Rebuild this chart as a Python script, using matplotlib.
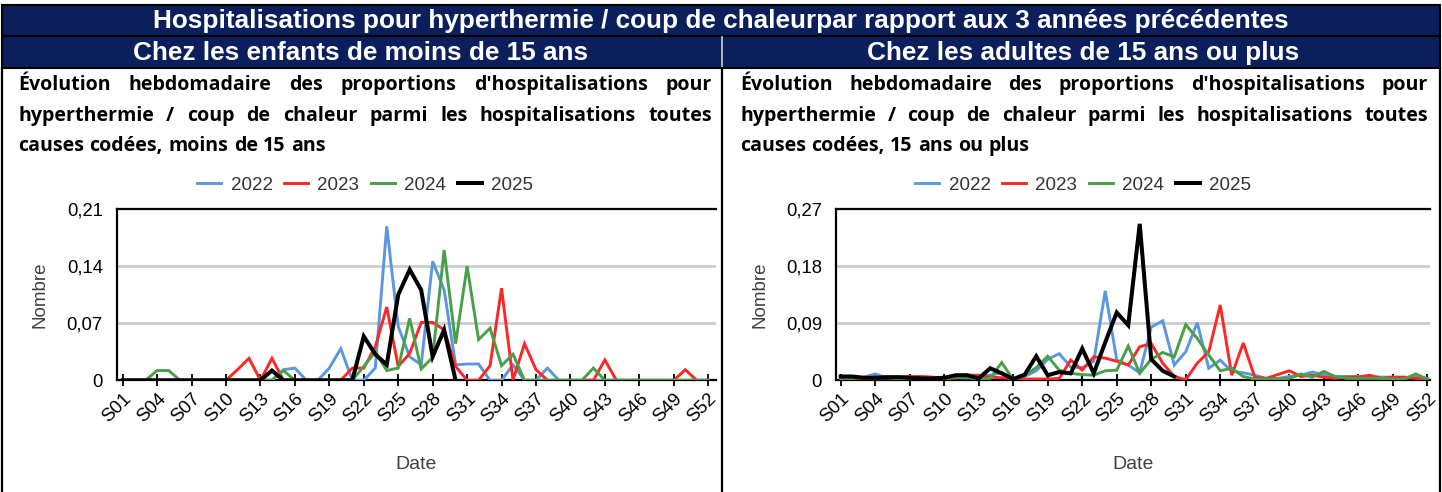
import matplotlib
matplotlib.use("Agg")
import matplotlib.pyplot as plt
from matplotlib.lines import Line2D
from matplotlib.patches import Rectangle

# ---- data -------------------------------------------------------------
weeks = list(range(1, 53))
tick_weeks = list(range(1, 53, 3))
tick_labels = [f"S{w:02d}" for w in tick_weeks]
years = ["2022", "2023", "2024", "2025"]

# children under 15
child_2022 = [0, 0, 0, 0, 0, 0, 0, 0, 0, 0, 0, 0, 0, 0, 0.013, 0.015, 0, 0,
              0.015, 0.039, 0, 0, 0.015, 0.189, 0.066, 0.029, 0.019, 0.146,
              0.111, 0.019, 0.020, 0.020, 0, 0, 0.019, 0, 0, 0.015, 0, 0, 0, 0,
              0, 0, 0, 0, 0, 0, 0, 0, 0, 0]
child_2023 = [0, 0, 0, 0, 0, 0, 0, 0, 0, 0, 0.013, 0.027, 0, 0.027, 0, 0, 0,
              0, 0, 0, 0.015, 0.015, 0.041, 0.090, 0.017, 0.033, 0.071, 0.071,
              0.062, 0.017, 0, 0, 0.018, 0.113, 0, 0.045, 0.013, 0, 0, 0, 0, 0,
              0.025, 0, 0, 0, 0, 0, 0, 0.013, 0, 0]
child_2024 = [0, 0, 0, 0.012, 0.012, 0, 0, 0, 0, 0, 0, 0, 0, 0, 0.012, 0, 0,
              0, 0, 0, 0, 0.017, 0.035, 0.012, 0.015, 0.076, 0.014, 0.028,
              0.160, 0.045, 0.140, 0.050, 0.064, 0.018, 0.032, 0, 0, 0, 0, 0,
              0, 0.015, 0, 0, 0, 0, 0, 0, 0, 0, 0, 0]
child_2025 = [0, 0, 0, 0, 0, 0, 0, 0, 0, 0, 0, 0, 0, 0.012, 0, 0, 0, 0, 0, 0,
              0, 0.054, 0.032, 0.019, 0.105, 0.136, 0.111, 0.029, 0.062, 0]

# adults 15 and over
adult_2022 = [0.004, 0.004, 0.005, 0.010, 0.004, 0.003, 0.004, 0.003, 0.003,
              0.003, 0.004, 0.004, 0.006, 0.008, 0.012, 0.003, 0.006, 0.015,
              0.033, 0.042, 0.021, 0.020, 0.030, 0.141, 0.032, 0.024, 0.012,
              0.084, 0.094, 0.024, 0.045, 0.091, 0.019, 0.032, 0.014, 0.012,
              0.008, 0.003, 0.003, 0.006, 0.008, 0.013, 0.009, 0.006, 0.006,
              0.006, 0.006, 0.005, 0.005, 0.003, 0.005, 0.003]
adult_2023 = [0.003, 0.004, 0.003, 0.003, 0.004, 0.005, 0.006, 0.006, 0.005,
              0.003, 0.004, 0.008, 0.008, 0.005, 0.004, 0.003, 0.002, 0.002,
              0.002, 0.003, 0.032, 0.016, 0.037, 0.035, 0.030, 0.024, 0.053,
              0.058, 0.027, 0.006, 0.001, 0.027, 0.045, 0.119, 0.008, 0.059,
              0.005, 0.003, 0.009, 0.015, 0.006, 0.008, 0.005, 0.003, 0.005,
              0.005, 0.008, 0.003, 0.005, 0.005, 0.003, 0.002]
adult_2024 = [0.003, 0.003, 0.004, 0.004, 0.005, 0.003, 0.002, 0.003, 0.003,
              0.003, 0.005, 0.004, 0.002, 0.003, 0.028, 0.001, 0.008, 0.020,
              0.038, 0.016, 0.011, 0.009, 0.008, 0.015, 0.016, 0.054, 0.011,
              0.033, 0.044, 0.037, 0.088, 0.066, 0.040, 0.015, 0.019, 0.006,
              0.002, 0.002, 0.002, 0.003, 0.010, 0.005, 0.014, 0.006, 0.003,
              0.003, 0.003, 0.003, 0.002, 0.002, 0.010, 0.002]
adult_2025 = [0.006, 0.006, 0.004, 0.004, 0.005, 0.005, 0.004, 0.003, 0.003,
              0.004, 0.008, 0.008, 0.003, 0.019, 0.011, 0.002, 0.009, 0.038,
              0.008, 0.013, 0.011, 0.050, 0.011, 0.060, 0.107, 0.087, 0.247,
              0.033, 0.015, 0.006]

child_ticks = [0, 0.07, 0.14, 0.21]
adult_ticks = [0, 0.09, 0.18, 0.27]

main_title = "Hospitalisations pour hyperthermie / coup de chaleurpar rapport aux 3 années précédentes"
panel_titles = ["Chez les enfants de moins de 15 ans", "Chez les adultes de 15 ans ou plus"]
chart_titles = [
    ["Évolution hebdomadaire des proportions d'hospitalisations pour",
     "hyperthermie / coup de chaleur parmi les hospitalisations toutes",
     "causes codées, moins de 15 ans"],
    ["Évolution hebdomadaire des proportions d'hospitalisations pour",
     "hyperthermie / coup de chaleur parmi les hospitalisations toutes",
     "causes codées, 15 ans ou plus"],
]

# ---- style ------------------------------------------------------------
colors = ["#5b97de", "#ff2626", "#47a047", "#000000"]
widths = [2.1, 2.1, 2.1, 2.9]
navy = "#0b1f5c"
W, H = 1442, 492

plt.rcParams["font.family"] = ["Liberation Sans", "DejaVu Sans"]
fig = plt.figure(figsize=(W / 100, H / 100), dpi=100)
fig.patch.set_facecolor("white")


def fx(x):
    return x / W


def fy(y):
    return 1 - y / H


# ---- header band --------------------------------------------------------
fig.add_artist(Rectangle((fx(2), fy(68)), fx(1438), 63 / H, transform=fig.transFigure,
                         facecolor=navy, edgecolor="black", lw=1.5))
fig.add_artist(Line2D([fx(2), fx(1440)], [fy(36), fy(36)], transform=fig.transFigure,
                      color="black", lw=1.5))
fig.add_artist(Line2D([fx(722), fx(722)], [fy(37), fy(68)], transform=fig.transFigure,
                      color="#d0d0d0", lw=1.2))
fig.text(fx(721), fy(21), main_title, ha="center", va="center", color="white",
         fontsize=18.8, fontweight="bold")
fig.text(fx(361), fy(53), panel_titles[0], ha="center", va="center", color="white",
         fontsize=18.8, fontweight="bold")
fig.text(fx(1083), fy(53), panel_titles[1], ha="center", va="center", color="white",
         fontsize=18.8, fontweight="bold")

# panel borders
for xb in (2, 722, 1440):
    fig.add_artist(Line2D([fx(xb), fx(xb)], [fy(68), fy(492)], transform=fig.transFigure,
                          color="black", lw=1.6))

# ---- justified chart titles --------------------------------------------
renderer = fig.canvas.get_renderer()
title_kw = dict(fontsize=14.1, fontweight="bold", color="black",
                family=["Open Sans", "DejaVu Sans"])


def justified(lines, x0, x1, ys):
    for i, (line, y) in enumerate(zip(lines, ys)):
        words = line.split(" ")
        texts = [fig.text(0, fy(y), w, ha="left", va="center", **title_kw) for w in words]
        wds = [t.get_window_extent(renderer).width for t in texts]
        last = i == len(lines) - 1
        gap = 5.5 if last else (x1 - x0 - sum(wds)) / (len(words) - 1)
        x = x0
        for t, wd in zip(texts, wds):
            t.set_x(fx(x))
            x += wd + gap


title_ys = [85, 116, 146]
justified(chart_titles[0], 18, 712, title_ys)
justified(chart_titles[1], 740, 1428, title_ys)

# ---- charts -----------------------------------------------------------
panels = [
    dict(rect=[fx(116.7), fy(380.3), fx(599.3), 171 / H], xlim=(0.48, 52.68),
         series=[child_2022, child_2023, child_2024, child_2025], ticks=child_ticks,
         legend_x=365),
    dict(rect=[fx(836), fy(380.3), fx(594), 171 / H], xlim=(0.59, 52.24),
         series=[adult_2022, adult_2023, adult_2024, adult_2025], ticks=adult_ticks,
         legend_x=1083),
]

for p in panels:
    ax = fig.add_axes(p["rect"])
    for vals, c, lw, lab in zip(p["series"], colors, widths, years):
        ax.plot(weeks[:len(vals)], vals, color=c, lw=lw, label=lab,
                solid_joinstyle="miter", zorder=3)
    ax.set_xlim(*p["xlim"])
    ax.set_ylim(0, p["ticks"][-1])
    ax.set_yticks(p["ticks"])
    ax.set_yticklabels([("%g" % t).replace(".", ",") for t in p["ticks"]], fontsize=13.3)
    for t in p["ticks"][1:-1]:
        ax.axhline(t, color="#cccccc", lw=2, zorder=1)
    ax.set_xticks(tick_weeks)
    ax.set_xticklabels(tick_labels, rotation=45, ha="right", va="top",
                       rotation_mode="anchor", fontsize=13.5)
    ax.tick_params(axis="x", direction="inout", length=8, width=1.3, pad=3)
    ax.tick_params(axis="y", length=0, pad=10)
    for s in ("top", "left", "bottom"):
        ax.spines[s].set_linewidth(1.6)
        ax.spines[s].set_color("black")
    ax.spines["right"].set_visible(False)
    ax.text(-0.128, 0.5, "Nombre", transform=ax.transAxes, rotation=90,
            ha="center", va="center", fontsize=13.5, color="#404040")
    ax.text(0.5, -0.495, "Date", transform=ax.transAxes, ha="center", va="center",
            fontsize=14, color="#404040")
    handles = [Line2D([], [], color=c, lw=lw) for c, lw in zip(colors, widths)]
    fig.legend(handles, years, loc="center", bbox_to_anchor=(fx(p["legend_x"]), fy(185)),
               ncol=4, frameon=False, fontsize=13.5, handlelength=1.3,
               handletextpad=0.5, columnspacing=0.6, labelcolor="#333333")

fig.savefig("out.png", dpi=100)
